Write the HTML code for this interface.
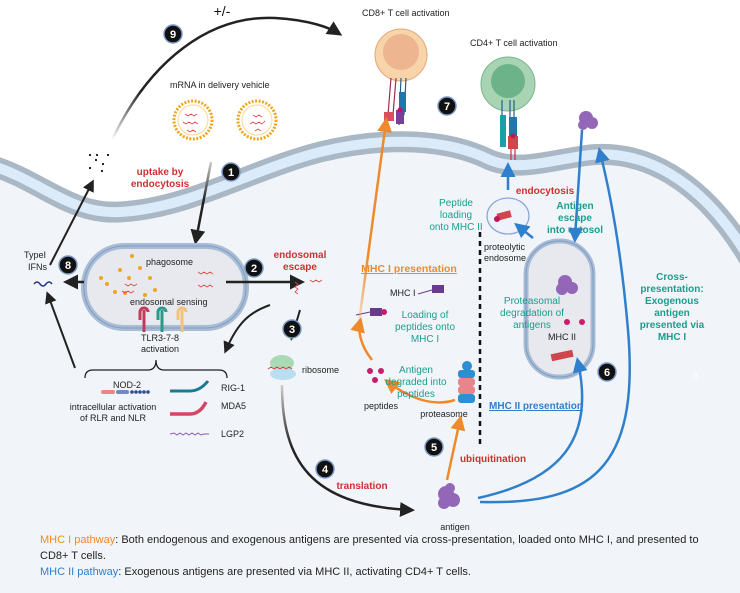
<!DOCTYPE html>
<html><head><meta charset="utf-8"><style>
html,body{margin:0;padding:0;background:#fff;}
svg{display:block;font-family:"Liberation Sans",sans-serif;}
.n{fill:#111;stroke:#7d9bc9;stroke-width:1.5}
.nt{fill:#fff;font-size:11px;text-anchor:middle;font-weight:bold}
.red{fill:#d12f2f;font-weight:bold;font-size:10px;text-anchor:middle}
.grn{fill:#1a9e8c;font-size:10px;text-anchor:middle}
.grnb{fill:#1a9e8c;font-size:10px;text-anchor:middle;font-weight:bold}
.lbl{fill:#222;font-size:9px}
</style></head><body>
<svg width="740" height="593" viewBox="0 0 740 593" xmlns="http://www.w3.org/2000/svg">
<defs>
<marker id="ab" markerWidth="6" markerHeight="6" refX="4" refY="3" orient="auto" markerUnits="strokeWidth"><path d="M0,0 L6,3 L0,6 Z" fill="#222"/></marker>
<marker id="ao" markerWidth="6" markerHeight="6" refX="4" refY="3" orient="auto" markerUnits="strokeWidth"><path d="M0,0 L6,3 L0,6 Z" fill="#ee8a2b"/></marker>
<marker id="abl" markerWidth="6" markerHeight="6" refX="4" refY="3" orient="auto" markerUnits="strokeWidth"><path d="M0,0 L6,3 L0,6 Z" fill="#2f7fcc"/></marker>
<linearGradient id="g9" x1="0" y1="1" x2="0.3" y2="0"><stop offset="0" stop-color="#222" stop-opacity="0"/><stop offset="0.4" stop-color="#222"/></linearGradient>
<linearGradient id="g4" x1="0" y1="0" x2="0" y2="1"><stop offset="0" stop-color="#ccc"/><stop offset="0.5" stop-color="#222"/></linearGradient>
<linearGradient id="go" x1="0" y1="1" x2="0" y2="0"><stop offset="0" stop-color="#ee8a2b" stop-opacity="0.1"/><stop offset="0.35" stop-color="#ee8a2b"/></linearGradient>
</defs>
<path d="M-10,165 C40,180 70,215 120,212 C190,208 250,170 320,152 C390,135 450,140 490,160 C520,172 550,160 590,155 C640,150 700,175 750,260 L750,600 L-10,600 Z" fill="#f1f5fa"/>
<path d="M-10,165 C40,180 70,215 120,212 C190,208 250,170 320,152 C390,135 450,140 490,160 C520,172 550,160 590,155 C640,150 700,175 750,260" fill="none" stroke="#a9b8c4" stroke-width="21"/>
<path d="M-10,165 C40,180 70,215 120,212 C190,208 250,170 320,152 C390,135 450,140 490,160 C520,172 550,160 590,155 C640,150 700,175 750,260" fill="none" stroke="#dcebfa" stroke-width="10"/>

<path d="M112,140 C150,60 210,15 275,18 C310,20 330,28 338,33" fill="none" stroke="url(#g9)" stroke-width="2.5" marker-end="url(#ab)"/>
<text x="222" y="16" font-size="14" fill="#111" text-anchor="middle">+/-</text>
<circle class="n" cx="173" cy="34" r="9"/><text class="nt" x="173" y="38">9</text>

<text class="lbl" x="362" y="16">CD8+ T cell activation</text>
<circle cx="401" cy="55" r="26" fill="#f8d4ab" stroke="#e5a877"/>
<circle cx="401" cy="52" r="18" fill="#eeb591"/>
<g stroke-width="1.2"><line x1="391" y1="78" x2="388" y2="115" stroke="#a02d4b"/><line x1="396" y1="78" x2="393" y2="115" stroke="#a02d4b"/><line x1="401" y1="78" x2="399" y2="125" stroke="#1f5f8a"/><line x1="406" y1="78" x2="404" y2="115" stroke="#1f5f8a"/></g>
<rect x="384" y="112" width="10" height="9" fill="#d9505c"/><rect x="399" y="92" width="7" height="20" fill="#2276a5"/><rect x="396" y="110" width="8" height="14" fill="#7a3f99"/>
<circle cx="400" cy="110" r="2.5" fill="#c0155c"/>
<text class="lbl" x="470" y="46">CD4+ T cell activation</text>
<circle cx="508" cy="84" r="27" fill="#a9d4b4" stroke="#7bb68f"/>
<circle cx="508" cy="81" r="17" fill="#6db38a"/>
<g stroke-width="1.2"><line x1="502" y1="100" x2="502" y2="120" stroke="#1f5f8a"/><line x1="510" y1="100" x2="510" y2="120" stroke="#1f5f8a"/><line x1="514" y1="100" x2="514" y2="120" stroke="#1f5f8a"/><line x1="511" y1="140" x2="511" y2="160" stroke="#c0303c"/><line x1="515" y1="140" x2="515" y2="160" stroke="#c0303c"/></g>
<rect x="500" y="115" width="6" height="32" fill="#1aa0a8"/><rect x="509" y="117" width="8" height="20" fill="#2276a5"/><rect x="508" y="136" width="10" height="13" fill="#d0464d"/><circle cx="513" cy="136" r="2.5" fill="#c0155c"/>
<circle class="n" cx="447" cy="106" r="9"/><text class="nt" x="447" y="110">7</text>

<text class="lbl" x="170" y="88">mRNA in delivery vehicle</text>
<g fill="#fff" stroke="#f0a51f" stroke-width="3" stroke-dasharray="2 1.5"><circle cx="193" cy="120" r="19"/><circle cx="257" cy="120" r="19"/></g>
<g fill="none" stroke="#fbd98a" stroke-width="1"><circle cx="193" cy="120" r="15"/><circle cx="257" cy="120" r="15"/></g>
<g fill="none" stroke="#d44" stroke-width="0.8"><path d="M185,114 l3,2 l3,-2 l3,2 l3,-2"/><path d="M183,122 l3,2 l3,-2 l3,2 l3,-2 l3,2"/><path d="M187,130 l3,2 l3,-2 l3,2"/><path d="M253,115 l3,2 l3,-2 l3,2"/><path d="M250,124 l3,-2 l3,2 l3,-2 l3,2 l3,-3"/><path d="M255,131 l3,-2 l3,2"/></g>
<g fill="#111"><circle cx="90" cy="155" r="1.1"/><circle cx="97" cy="155" r="1.1"/><circle cx="108" cy="155" r="1.1"/><circle cx="96" cy="160" r="1.1"/><circle cx="103" cy="164" r="1.1"/><circle cx="90" cy="168" r="1.1"/><circle cx="102" cy="171" r="1.1"/></g>
<text class="red" x="160" y="175">uptake by</text><text class="red" x="160" y="187">endocytosis</text>
<path d="M211,162 L196,240" stroke="url(#g4)" stroke-width="2.5" fill="none" marker-end="url(#ab)"/>
<circle class="n" cx="231" cy="172" r="9"/><text class="nt" x="231" y="176">1</text>

<rect x="84" y="246" width="162" height="82" rx="40" fill="#e7e9ee" stroke="#a9bcd6" stroke-width="6"/>
<rect x="84" y="246" width="162" height="82" rx="40" fill="none" stroke="#7f9cc1" stroke-width="1"/>
<text class="lbl" x="146" y="265" font-size="9.5">phagosome</text>
<text class="lbl" x="130" y="305" font-size="9.5">endosomal sensing</text>
<g fill="#f0a51f"><circle cx="101" cy="278" r="2"/><circle cx="107" cy="284" r="2"/><circle cx="115" cy="292" r="2"/><circle cx="120" cy="270" r="2"/><circle cx="129" cy="278" r="2"/><circle cx="125" cy="293" r="2"/><circle cx="140" cy="268" r="2"/><circle cx="150" cy="278" r="2"/><circle cx="155" cy="290" r="2"/><circle cx="145" cy="295" r="2"/><circle cx="132" cy="256" r="2"/></g>
<g fill="none" stroke="#d44" stroke-width="0.8"><path d="M125,284 l3,2 l3,-2 l3,2 l3,-2"/><path d="M122,291 l3,2 l3,-2 l3,2 l3,-2"/><path d="M198,272 l3,2 l3,-2 l3,2 l3,-2 l3,2"/><path d="M198,285 l3,2 l3,-2 l3,2 l3,-2 l3,2"/></g>
<g><path d="M140,320 v-8 a4,4 0 0 1 8,0 M144,310 v22" stroke="#c13a5a" stroke-width="3" fill="none"/><path d="M158,320 v-8 a4,4 0 0 1 8,0 M162,310 v22" stroke="#2a9a86" stroke-width="3" fill="none"/><path d="M178,320 v-8 a4,4 0 0 1 8,0 M182,310 v22" stroke="#f2c27b" stroke-width="3" fill="none"/></g>
<text class="lbl" x="160" y="341" text-anchor="middle">TLR3-7-8</text><text class="lbl" x="160" y="352" text-anchor="middle">activation</text>
<path d="M226,282 L300,282" stroke="#222" stroke-width="2.5" marker-end="url(#ab)"/>
<circle class="n" cx="254" cy="268" r="9"/><text class="nt" x="254" y="272">2</text>
<text class="red" x="300" y="258">endosomal</text><text class="red" x="300" y="270">escape</text>
<g fill="none" stroke="#d44" stroke-width="0.8"><path d="M295,282 l3,2 l-3,3 l3,2 l-3,3 l3,2"/><path d="M310,280 l3,2 l3,-2 l3,2 l3,-2"/></g>
<path d="M84,282 L68,282" stroke="#222" stroke-width="2.5" marker-end="url(#ab)"/>
<circle class="n" cx="68" cy="265" r="9"/><text class="nt" x="68" y="269">8</text>
<text class="lbl" x="24" y="258">TypeI</text><text class="lbl" x="28" y="270">IFNs</text>
<path d="M34,284 q3,-4 6,0 q3,4 6,0 q3,-4 6,0" stroke="#283b8a" stroke-width="1.5" fill="none"/>
<path d="M50,265 L92,183" stroke="#222" stroke-width="2" marker-end="url(#ab)"/>
<path d="M75,368 L48,295" stroke="#222" stroke-width="2" marker-end="url(#ab)"/>
<path d="M300,310 L292,337" stroke="#222" stroke-width="2" marker-end="url(#ab)"/>
<path d="M270,305 C250,312 238,322 226,350" stroke="#222" stroke-width="2" fill="none" marker-end="url(#ab)"/>
<circle class="n" cx="292" cy="329" r="9"/><text class="nt" x="292" y="333">3</text>

<path d="M85,378 q0,-8 8,-8 h55 q8,0 8,-10 q0,10 8,10 h55 q8,0 8,8" stroke="#222" stroke-width="1.3" fill="none"/>
<text class="lbl" x="127" y="388" text-anchor="middle">NOD-2</text>
<rect x="101" y="390" width="14" height="4" rx="2" fill="#e88585"/><rect x="116" y="390" width="13" height="4" rx="2" fill="#7088c6"/>
<g fill="#2e4d8e"><circle cx="132" cy="392" r="1.8"/><circle cx="136" cy="392" r="1.8"/><circle cx="140" cy="392" r="1.8"/><circle cx="144" cy="392" r="1.8"/><circle cx="148" cy="392" r="1.8"/></g>
<text class="lbl" x="113" y="410" text-anchor="middle">intracellular activation</text><text class="lbl" x="113" y="421" text-anchor="middle">of RLR and NLR</text>
<path d="M170,391 h20 q10,0 18,-10" stroke="#1b7a92" stroke-width="3" fill="none"/><text class="lbl" x="221" y="391">RIG-1</text>
<path d="M170,414 h20 q10,0 16,-12" stroke="#d54565" stroke-width="3.5" fill="none"/><text class="lbl" x="221" y="409">MDA5</text>
<path d="M170,434 l4,-1 l3,2 l3,-2 l3,2 l3,-2 l3,2 l3,-2 l3,2 l3,-2 l3,2 l3,-1 l5,0" stroke="#8a5db0" stroke-width="1" fill="none"/><text class="lbl" x="221" y="437">LGP2</text>

<ellipse cx="282" cy="363" rx="12" ry="8" fill="#a9d9b5"/><ellipse cx="283" cy="374" rx="13" ry="6" fill="#b9def0"/>
<path d="M268,369 l3,-2 l3,2 l3,-2 l3,2 l3,-2 l3,2 l3,-2 l3,2" stroke="#d33" stroke-width="0.8" fill="none"/>
<text class="lbl" x="302" y="373">ribosome</text>
<path d="M282,385 C282,460 310,505 410,510" stroke="url(#g4)" stroke-width="2.5" fill="none" marker-end="url(#ab)"/>
<circle class="n" cx="325" cy="469" r="9"/><text class="nt" x="325" y="473">4</text>
<text class="red" x="362" y="489">translation</text>

<g fill="#9466b7"><circle cx="446" cy="494" r="8"/><circle cx="453" cy="500" r="7"/><circle cx="444" cy="503" r="6"/><circle cx="450" cy="488" r="5"/></g>
<text class="lbl" x="455" y="530" text-anchor="middle">antigen</text>
<path d="M447,480 L460,420" stroke="#ee8a2b" stroke-width="2.5" marker-end="url(#ao)"/>
<circle class="n" cx="434" cy="447" r="9"/><text class="nt" x="434" y="451">5</text>
<text class="red" x="493" y="462">ubiquitination</text>

<g><rect x="458" y="370" width="17" height="8" rx="3" fill="#2b8fd1"/><rect x="458" y="378" width="17" height="8" rx="3" fill="#e8848a"/><rect x="458" y="386" width="17" height="8" rx="3" fill="#e8848a"/><rect x="458" y="394" width="17" height="9" rx="3" fill="#2b8fd1"/><circle cx="467" cy="366" r="5" fill="#2b8fd1"/></g>
<text class="lbl" x="444" y="417" text-anchor="middle">proteasome</text>
<path d="M455,400 C430,408 405,395 388,382" stroke="#ee8a2b" stroke-width="2.5" fill="none" marker-end="url(#ao)"/>
<g fill="#c81d6a"><circle cx="370" cy="371" r="3"/><circle cx="381" cy="371" r="3"/><circle cx="375" cy="380" r="3"/></g>
<text class="lbl" x="381" y="409" text-anchor="middle">peptides</text>
<text class="grn" x="416" y="373">Antigen</text><text class="grn" x="416" y="385">degraded into</text><text class="grn" x="416" y="397">peptides</text>
<path d="M372,360 C360,345 358,330 360,322" stroke="#ee8a2b" stroke-width="2.5" fill="none" marker-end="url(#ao)"/>
<line x1="356" y1="315" x2="370" y2="312" stroke="#6a3b8c" stroke-width="1"/><rect x="370" y="308" width="12" height="8" fill="#6a3b8c"/><circle cx="384" cy="312" r="3" fill="#c81d6a"/>
<text class="grn" x="425" y="318">Loading of</text><text class="grn" x="425" y="330">peptides onto</text><text class="grn" x="425" y="342">MHC I</text>
<text class="lbl" x="390" y="296">MHC I</text><line x1="418" y1="294" x2="432" y2="290" stroke="#6a3b8c"/><rect x="432" y="285" width="12" height="8" fill="#6a3b8c"/>
<text x="409" y="272" font-size="10.5" font-weight="bold" fill="#ee8a2b" text-anchor="middle" text-decoration="underline">MHC I presentation</text>
<path d="M358,330 L386,122" stroke="url(#go)" stroke-width="2.5" marker-end="url(#ao)"/>

<line x1="480" y1="232" x2="480" y2="445" stroke="#111" stroke-width="2.5" stroke-dasharray="5 4"/>
<text class="lbl" x="484" y="250">proteolytic</text><text class="lbl" x="484" y="261">endosome</text>
<text x="536" y="409" font-size="10" font-weight="bold" fill="#2f7fcc" text-anchor="middle" text-decoration="underline">MHC II presentation</text>

<ellipse cx="508" cy="216" rx="21" ry="18" fill="#eef2fa" stroke="#8aa6d8" stroke-width="1.3"/>
<rect x="497" y="212" width="14" height="7" fill="#d0464d" transform="rotate(-15 504 215)"/><circle cx="497" cy="219" r="3" fill="#c0155c"/>
<text class="grn" x="456" y="206">Peptide</text><text class="grn" x="456" y="218">loading</text><text class="grn" x="456" y="230">onto MHC II</text>
<path d="M508,190 L508,167" stroke="#2f7fcc" stroke-width="2.5" marker-end="url(#abl)"/>
<text class="red" x="545" y="194">endocytosis</text>
<text class="grnb" x="575" y="209">Antigen</text><text class="grnb" x="575" y="221">escape</text><text class="grnb" x="575" y="233">into cytosol</text>

<rect x="526" y="241" width="67" height="136" rx="33" fill="#e7e9ee" stroke="#a9bcd6" stroke-width="5"/>
<rect x="526" y="241" width="67" height="136" rx="33" fill="none" stroke="#7f9cc1" stroke-width="1"/>
<g fill="#9466b7"><circle cx="565" cy="282" r="7"/><circle cx="572" cy="288" r="6"/><circle cx="562" cy="289" r="6"/></g>
<text class="grn" x="532" y="304">Proteasomal</text><text class="grn" x="532" y="316">degradation of</text><text class="grn" x="532" y="328">antigens</text>
<circle cx="567" cy="322" r="3" fill="#c81d6a"/><circle cx="582" cy="322" r="3" fill="#c81d6a"/>
<text class="lbl" x="548" y="340">MHC II</text>
<rect x="551" y="352" width="22" height="7" fill="#d0464d" transform="rotate(-12 562 355)"/>
<path d="M533,238 L518,226" stroke="#2f7fcc" stroke-width="2.5" marker-end="url(#abl)"/>
<g fill="#9466b7"><circle cx="586" cy="118" r="7"/><circle cx="592" cy="123" r="6"/><circle cx="583" cy="125" r="5"/></g>
<path d="M582,130 L575,238" stroke="#2f7fcc" stroke-width="2.5" marker-end="url(#abl)"/>
<path d="M478,498 C560,480 595,440 578,362" stroke="#2f7fcc" stroke-width="2.5" fill="none" marker-end="url(#abl)"/>
<path d="M480,502 C590,505 640,470 628,330 C622,260 612,200 600,152" stroke="#2f7fcc" stroke-width="2.5" fill="none" marker-end="url(#abl)"/>
<circle class="n" cx="607" cy="372" r="9"/><text class="nt" x="607" y="376">6</text>
<text class="grnb" x="672" y="280">Cross-</text><text class="grnb" x="672" y="292">presentation:</text><text class="grnb" x="672" y="304">Exogenous</text><text class="grnb" x="672" y="316">antigen</text><text class="grnb" x="672" y="328">presented via</text><text class="grnb" x="672" y="340">MHC I</text>
<text x="693" y="379" font-size="10" fill="#fff">6</text>

<text x="40" y="543" font-size="11" fill="#222"><tspan fill="#ee8a2b">MHC I pathway</tspan>: Both endogenous and exogenous antigens are presented via cross-presentation, loaded onto MHC I, and presented to</text>
<text x="40" y="559" font-size="11" fill="#222">CD8+ T cells.</text>
<text x="40" y="575" font-size="11" fill="#222"><tspan fill="#2f7fcc">MHC II pathway</tspan>: Exogenous antigens are presented via MHC II, activating CD4+ T cells.</text>
</svg>
</body></html>
